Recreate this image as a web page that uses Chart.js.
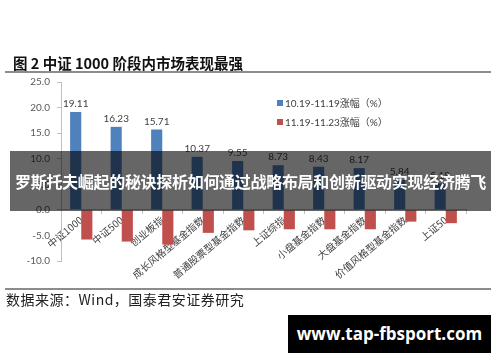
<!DOCTYPE html>
<html>
<head>
<meta charset="utf-8">
<script src="https://cdn.jsdelivr.net/npm/chart.js@4.4.1/dist/chart.umd.min.js"></script>
<style>
  html, body { margin: 0; padding: 0; background: #fff; }
  #wrap { position: relative; width: 500px; height: 362px; overflow: hidden; }
  #chart { position: absolute; left: 0; top: 0; }
  .title { position: absolute; left: 13px; top: 52px; font: bold 14.5px "Noto Sans CJK SC", serif; color: #111; white-space: nowrap; }
  .rule { position: absolute; left: 5px; width: 486px; height: 2px; background: #8c8c8c; }
  .source { position: absolute; left: 6px; top: 289px; font: 14px "Noto Sans CJK SC", serif; color: #222; white-space: nowrap; letter-spacing: 0.5px; }
  #legend { position: absolute; left: 277px; top: 96px; font: 10px Lato, "Noto Sans CJK SC", sans-serif; color: #404040; }
  #legend div { height: 19px; line-height: 15px; white-space: nowrap; }
  #legend span { display: inline-block; width: 6px; height: 6px; margin-right: 2px; vertical-align: 1px; }
  .banner { position: absolute; left: 10px; top: 151px; width: 481px; height: 60px; background: rgba(0,0,0,0.6);
            color: #fff; font: bold 16px "Noto Sans CJK SC", sans-serif; line-height: 60px; text-align: center; white-space: nowrap; letter-spacing: -0.3px; }
  .mark { position: absolute; left: 288px; top: 315px; width: 203px; height: 38px; background: #000;
          color: #fff; font: bold 17px "Open Sans", "DejaVu Sans", sans-serif; line-height: 38px; text-align: center; }
</style>
</head>
<body>
<div id="wrap">
  <canvas id="chart" width="500" height="362"></canvas>
  <div class="title">图 2 中证 1000 阶段内市场表现最强</div>
  <div class="rule" style="top:71px"></div>
  <div id="legend"></div>
  <div class="rule" style="top:288px"></div>
  <div class="source">数据来源：Wind，国泰君安证券研究</div>
  <div class="banner">罗斯托夫崛起的秘诀探析如何通过战略布局和创新驱动实现经济腾飞</div>
  <div class="mark">www.tap-fbsport.com</div>
</div>
<script>
// index names on the x axis
const categories = ['中证1000', '中证500', '创业板指', '成长风格型基金指数', '普通股票型基金指数',
    '上证综指', '小盘基金指数', '大盘基金指数', '价值风格型基金指数', '上证50'];

// 10.19-11.19 change (%)
const riseValues = [19.11, 16.23, 15.71, 10.37, 9.55, 8.73, 8.43, 8.17, 5.84, 5.19];
// 11.19-11.23 change (%)
const fallValues = [-5.8, -6.2, -6.8, -4.5, -4.0, -3.8, -3.8, -3.8, -2.3, -2.6];

const seriesNames = ['10.19-11.19涨幅（%）', '11.19-11.23涨幅（%）'];
const seriesColors = ['#4F81BD', '#C0504D'];

const yTicks = [25, 20, 15, 10, 5, 0, -5, -10];

// legend as plain html, built from the series
const legend = document.getElementById('legend');
seriesNames.forEach((name, i) => {
    const row = document.createElement('div');
    row.innerHTML = `<span style="background:${seriesColors[i]}"></span>${name}`;
    legend.appendChild(row);
});

// value labels over the blue bars
const valueLabels = {
    id: 'valueLabels',
    afterDatasetsDraw(chart) {
        const ctx = chart.ctx;
        const meta = chart.getDatasetMeta(0);
        ctx.save();
        ctx.font = '10px Lato, sans-serif';
        ctx.fillStyle = '#404040';
        ctx.textAlign = 'center';
        ctx.textBaseline = 'bottom';
        meta.data.forEach((bar, i) => {
            ctx.fillText(riseValues[i].toFixed(2), bar.x, bar.y - 3);
        });
        ctx.restore();
    }
};

new Chart(document.getElementById('chart'), {
    type: 'bar',
    data: {
        labels: categories,
        datasets: [
            { label: seriesNames[0], data: riseValues, backgroundColor: seriesColors[0] },
            { label: seriesNames[1], data: fallValues, backgroundColor: seriesColors[1] }
        ]
    },
    options: {
        responsive: false,
        animation: false,
        devicePixelRatio: 1,
        datasets: { bar: { categoryPercentage: 0.55, barPercentage: 1.0 } },
        layout: { padding: { left: 0, right: 34, top: 82, bottom: 101 } },
        plugins: { legend: { display: false }, tooltip: { enabled: false } },
        scales: {
            x: {
                position: { y: 0 },
                grid: { drawOnChartArea: false, tickLength: 4, color: '#bfbfbf', offset: true },
                border: { display: true, color: '#bfbfbf' },
                ticks: {
                    minRotation: 40, maxRotation: 40, autoSkip: false, padding: 0,
                    color: '#404040',
                    font: { family: '"Noto Sans CJK SC", serif', size: 10 }
                }
            },
            y: {
                min: -10, max: 25,
                afterFit(scale) { scale.width = 61; },
                afterBuildTicks(scale) { scale.ticks = yTicks.map(v => ({ value: v })); },
                grid: { drawOnChartArea: false, tickLength: 4, color: '#bfbfbf' },
                border: { display: true, color: '#bfbfbf' },
                ticks: {
                    padding: 7,
                    color: '#595959',
                    font: { family: 'Lato, sans-serif', size: 10 },
                    callback: v => v.toFixed(1)
                }
            }
        }
    },
    plugins: [valueLabels]
});
</script>
</body>
</html>
